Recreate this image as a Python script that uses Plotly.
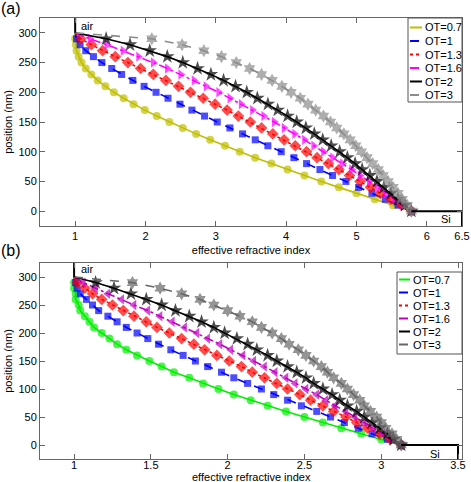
import plotly.graph_objects as go

# ---------------- data ----------------
position_nm = [300, 290, 280, 270, 260, 250, 240, 230, 220, 210, 200, 190, 180, 170, 160,
               150, 140, 130, 120, 110, 100, 90, 80, 70, 60, 50, 40, 30, 20, 10, 0]

ot_labels = ["OT=0.7", "OT=1", "OT=1.3", "OT=1.6", "OT=2", "OT=3"]

# panel (a): effective refractive index
n_a_ot07 = [1.00, 1.00, 1.01, 1.02, 1.05, 1.09, 1.15, 1.23, 1.32, 1.43, 1.55, 1.69, 1.83, 1.99, 2.16,
            2.34, 2.53, 2.72, 2.92, 3.13, 3.34, 3.56, 3.79, 4.02, 4.26, 4.50, 4.75, 5.00, 5.26, 5.52, 5.78]
n_a_ot1 = [1.00, 1.02, 1.07, 1.15, 1.26, 1.38, 1.52, 1.66, 1.82, 1.98, 2.15, 2.32, 2.49, 2.66, 2.84,
           3.02, 3.20, 3.38, 3.56, 3.74, 3.93, 4.11, 4.29, 4.48, 4.66, 4.85, 5.03, 5.22, 5.41, 5.59, 5.78]
n_a_ot13 = [1.00, 1.08, 1.23, 1.39, 1.57, 1.75, 1.93, 2.11, 2.29, 2.47, 2.64, 2.82, 2.99, 3.16, 3.32,
            3.49, 3.65, 3.81, 3.97, 4.13, 4.29, 4.44, 4.60, 4.75, 4.90, 5.05, 5.20, 5.34, 5.49, 5.64, 5.78]
n_a_ot16 = [1.00, 1.21, 1.45, 1.68, 1.90, 2.11, 2.31, 2.50, 2.69, 2.86, 3.04, 3.20, 3.36, 3.52, 3.68,
            3.83, 3.97, 4.12, 4.26, 4.39, 4.53, 4.66, 4.80, 4.93, 5.05, 5.18, 5.30, 5.42, 5.54, 5.66, 5.78]
n_a_ot2 = [1.00, 1.44, 1.78, 2.06, 2.31, 2.53, 2.74, 2.93, 3.11, 3.28, 3.44, 3.59, 3.74, 3.88, 4.02,
           4.15, 4.28, 4.40, 4.52, 4.64, 4.76, 4.87, 4.98, 5.08, 5.19, 5.29, 5.39, 5.49, 5.59, 5.69, 5.78]
n_a_ot3 = [1.00, 2.09, 2.52, 2.83, 3.08, 3.29, 3.48, 3.65, 3.80, 3.94, 4.07, 4.20, 4.31, 4.42, 4.53,
           4.63, 4.72, 4.82, 4.91, 4.99, 5.07, 5.15, 5.23, 5.31, 5.38, 5.45, 5.52, 5.59, 5.65, 5.72, 5.78]

# panel (b): effective refractive index
n_b_ot07 = [1.00, 1.00, 1.00, 1.01, 1.01, 1.03, 1.04, 1.07, 1.10, 1.13, 1.18, 1.23, 1.28, 1.34, 1.41,
            1.49, 1.57, 1.65, 1.75, 1.84, 1.94, 2.04, 2.15, 2.26, 2.38, 2.50, 2.62, 2.74, 2.87, 3.00, 3.13]
n_b_ot1 = [1.00, 1.01, 1.02, 1.04, 1.08, 1.12, 1.16, 1.22, 1.28, 1.34, 1.41, 1.48, 1.55, 1.63, 1.71,
           1.79, 1.87, 1.96, 2.04, 2.13, 2.22, 2.30, 2.39, 2.48, 2.58, 2.67, 2.76, 2.85, 2.94, 3.04, 3.13]
n_b_ot13 = [1.00, 1.02, 1.07, 1.12, 1.18, 1.25, 1.32, 1.39, 1.47, 1.54, 1.62, 1.70, 1.78, 1.85, 1.93,
            2.01, 2.09, 2.16, 2.24, 2.32, 2.39, 2.47, 2.54, 2.62, 2.69, 2.77, 2.84, 2.91, 2.99, 3.06, 3.13]
n_b_ot16 = [1.00, 1.06, 1.14, 1.22, 1.31, 1.39, 1.48, 1.56, 1.64, 1.72, 1.80, 1.87, 1.95, 2.02, 2.10,
            2.17, 2.24, 2.31, 2.38, 2.44, 2.51, 2.58, 2.64, 2.70, 2.77, 2.83, 2.89, 2.95, 3.01, 3.07, 3.13]
n_b_ot2 = [1.00, 1.14, 1.26, 1.37, 1.47, 1.57, 1.66, 1.75, 1.83, 1.91, 1.98, 2.06, 2.13, 2.19, 2.26,
           2.32, 2.39, 2.45, 2.51, 2.56, 2.62, 2.68, 2.73, 2.78, 2.84, 2.89, 2.94, 2.99, 3.04, 3.08, 3.13]
n_b_ot3 = [1.00, 1.38, 1.56, 1.70, 1.82, 1.91, 2.00, 2.08, 2.16, 2.22, 2.29, 2.35, 2.40, 2.46, 2.51,
           2.56, 2.61, 2.65, 2.69, 2.74, 2.78, 2.82, 2.86, 2.89, 2.93, 2.97, 3.00, 3.03, 3.07, 3.10, 3.13]

# boundary lines (air on top, Si at the bottom)
air_n = [1, 1]
air_pos = [300, 325]
si_a_n = [5.78, 6.5, 6.5]
si_b_n = [3.13, 3.5, 3.5]
si_pos = [0, 0, -25]

x_ticks_a = [1, 2, 3, 4, 5, 6, 6.5]
x_ticks_b = [1, 1.5, 2, 2.5, 3, 3.5]
y_ticks = [0, 50, 100, 150, 200, 250, 300]

# ---------------- styles ----------------
series_a = [n_a_ot07, n_a_ot1, n_a_ot13, n_a_ot16, n_a_ot2, n_a_ot3]
series_b = [n_b_ot07, n_b_ot1, n_b_ot13, n_b_ot16, n_b_ot2, n_b_ot3]
colors_a = ["#BFBF00", "#0000FF", "#FF0000", "#FF00FF", "#000000", "#8C8C8C"]
colors_b = ["#00EE00", "#0000FF", "#FF0000", "#BF00BF", "#000000", "#666666"]
dashes = ["solid", "dash", "dot", "dashdot", "solid", "dash"]
symbols_a = ["circle", "square", "diamond", "triangle-right", "star", "hexagram"]
symbols_b = ["circle", "square", "diamond", "triangle-left", "star", "hexagram"]
msizes = [8, 7, 9, 9, 11, 10]

FONT = "Liberation Sans, Arial, Helvetica, sans-serif"

# figure geometry (pixels)
W, H = 471, 482
ML, MR, MT, MB = 40, 9, 18, 23
PW, PH = W - ML - MR, H - MT - MB


def px(xp):
    return (xp - ML) / PW


def py(yp):
    return (H - MB - yp) / PH


fig = go.Figure()

for panel, series, colors, symbols, xa, ya in (
        ("a", series_a, colors_a, symbols_a, "x", "y"),
        ("b", series_b, colors_b, symbols_b, "x2", "y2")):
    for i in range(6):
        sizes = [0] + [msizes[i]] * (len(position_nm) - 1)
        fig.add_trace(go.Scatter(
            x=series[i], y=position_nm, mode="lines+markers", name=ot_labels[i],
            line=dict(color=colors[i], width=1.6, dash=dashes[i]),
            marker=dict(symbol=symbols[i], size=sizes, color=colors[i],
                        line=dict(width=0)),
            showlegend=False, xaxis=xa, yaxis=ya, hoverinfo="skip"))
    fig.add_trace(go.Scatter(x=air_n, y=air_pos, mode="lines",
                             line=dict(color="black", width=2),
                             showlegend=False, xaxis=xa, yaxis=ya, hoverinfo="skip"))
    fig.add_trace(go.Scatter(x=si_a_n if panel == "a" else si_b_n, y=si_pos, mode="lines",
                             line=dict(color="black", width=2),
                             showlegend=False, xaxis=xa, yaxis=ya, hoverinfo="skip"))

# ---------------- compact MATLAB-style legends ----------------
shapes = []
annotations = []
legend_specs = [
    # box left, right, top, bottom, first row y, row step, sample x0, x1, text x, colors
    (408, 462, 18, 102, 27.5, 13.5, 410, 422, 423, colors_a),
    (397, 462, 272, 354, 279.5, 13.0, 399, 410, 411, colors_b),
]
for (bl, br, bt, bb, r0, dr, s0, s1, tx, cols) in legend_specs:
    shapes.append(dict(type="rect", xref="paper", yref="paper", layer="above",
                       x0=px(bl), x1=px(br), y0=py(bb), y1=py(bt),
                       line=dict(color="#555", width=1), fillcolor="white"))
    for i, lab in enumerate(ot_labels):
        yy = r0 + i * dr
        shapes.append(dict(type="line", xref="paper", yref="paper", layer="above",
                           x0=px(s0), x1=px(s1), y0=py(yy), y1=py(yy),
                           line=dict(color=cols[i], width=2, dash=dashes[i])))
        annotations.append(dict(text=lab, x=px(tx), y=py(yy), xref="paper", yref="paper",
                                xanchor="left", yanchor="middle", showarrow=False,
                                font=dict(family=FONT, size=11, color="black")))

annotations += [
    dict(text="air", x=1.06, y=312, xref="x", yref="y", xanchor="left",
         yanchor="middle", showarrow=False, font=dict(family=FONT, size=11)),
    dict(text="Si", x=6.27, y=-14, xref="x", yref="y", xanchor="center",
         yanchor="middle", showarrow=False, font=dict(family=FONT, size=11)),
    dict(text="air", x=1.035, y=314, xref="x2", yref="y2", xanchor="left",
         yanchor="middle", showarrow=False, font=dict(family=FONT, size=11)),
    dict(text="Si", x=3.35, y=-16, xref="x2", yref="y2", xanchor="center",
         yanchor="middle", showarrow=False, font=dict(family=FONT, size=11)),
    dict(text="(a)", x=px(11), y=py(8), xref="paper", yref="paper",
         xanchor="center", yanchor="middle", showarrow=False,
         font=dict(family=FONT, size=16)),
    dict(text="(b)", x=px(11), y=py(250), xref="paper", yref="paper",
         xanchor="center", yanchor="middle", showarrow=False,
         font=dict(family=FONT, size=16)),
    # x title of panel (b): the bottom margin is too tight for a Plotly axis title
    dict(text="effective refractive index", x=0.5, y=py(482), xref="paper", yref="paper",
         xanchor="center", yanchor="bottom", showarrow=False, borderpad=0, yshift=-2,
         font=dict(family=FONT, size=11)),
]

axis_common = dict(
    showgrid=False, zeroline=False, showline=True, linecolor="#666", linewidth=1,
    mirror="ticks", ticks="inside", ticklen=5, tickcolor="#666", tickwidth=1,
    tickfont=dict(family=FONT, size=11, color="black"), automargin=False,
)

fig.update_layout(
    width=W, height=H,
    margin=dict(l=ML, r=MR, t=MT, b=MB),
    paper_bgcolor="white", plot_bgcolor="white",
    font=dict(family=FONT, size=11, color="black"),
    showlegend=False,
    xaxis=dict(domain=[0, 1], anchor="y", range=[0.5, 6.5], tickvals=x_ticks_a,
               title=dict(text="effective refractive index", standoff=5,
                          font=dict(family=FONT, size=11)), **axis_common),
    yaxis=dict(domain=[py(226), 1], anchor="x", range=[-25, 325], tickvals=y_ticks,
               title=dict(text="position (nm)", standoff=3,
                          font=dict(family=FONT, size=11)), **axis_common),
    xaxis2=dict(domain=[0, 1], anchor="y2", range=[0.778, 3.526], tickvals=x_ticks_b,
                ticklabelstandoff=-4, **axis_common),
    yaxis2=dict(domain=[0, py(263)], anchor="x2", range=[-25, 325], tickvals=y_ticks,
                title=dict(text="position (nm)", standoff=3,
                           font=dict(family=FONT, size=11)), **axis_common),
    shapes=shapes,
    annotations=annotations,
)

fig.write_html("out.html", config={"displayModeBar": False},
               post_script="document.body.style.margin='0';document.body.style.overflow='hidden';")
